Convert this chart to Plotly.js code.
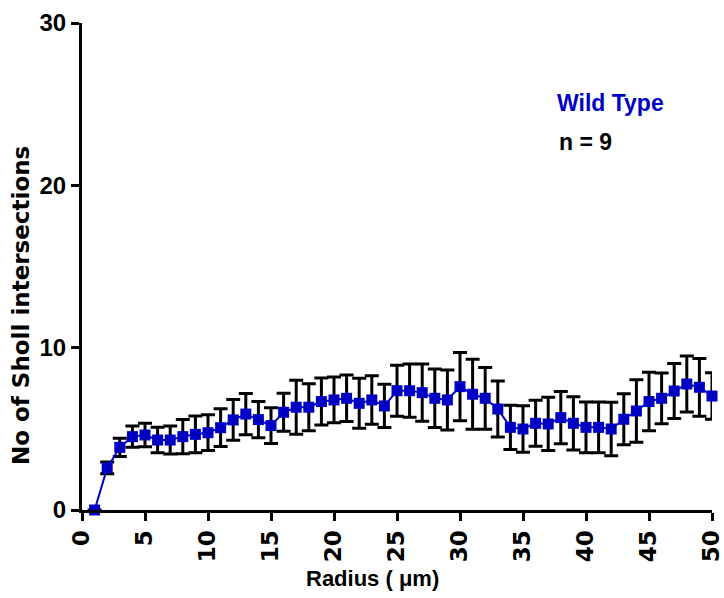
<!DOCTYPE html>
<html>
<head>
<meta charset="utf-8">
<script src="https://cdn.plot.ly/plotly-3.0.1.min.js"></script>
<style>html,body{margin:0;padding:0;background:#fff;}#chart{width:724px;height:598px;}</style>
</head>
<body>
<div id="chart"></div>
<script>
const radius = [1,2,3,4,5,6,7,8,9,10,11,12,13,14,15,16,17,18,19,20,21,22,23,24,25,26,27,28,29,30,31,32,33,34,35,36,37,38,39,40,41,42,43,44,45,46,47,48,49,50];
const meanIntersections = [0,2.59,3.86,4.52,4.62,4.31,4.31,4.52,4.66,4.76,5.07,5.55,5.91,5.57,5.2,6.02,6.33,6.33,6.68,6.78,6.88,6.57,6.78,6.41,7.35,7.35,7.23,6.88,6.78,7.6,7.13,6.88,6.22,5.09,4.99,5.34,5.3,5.69,5.34,5.09,5.09,4.99,5.59,6.1,6.68,6.88,7.33,7.76,7.56,7.02];
const semIntersections = [0,0.36,0.56,0.65,0.72,0.78,0.86,1.05,1.13,1.1,1.16,1.25,1.27,1.12,1.1,1.17,1.66,1.45,1.45,1.41,1.43,1.54,1.49,1.33,1.57,1.64,1.77,1.8,1.85,2.1,2.15,1.9,1.72,1.37,1.43,1.42,1.64,1.61,1.64,1.57,1.57,1.65,1.57,1.92,1.8,1.56,1.7,1.72,1.78,1.43];
const xTicks = [0,5,10,15,20,25,30,35,40,45,50];
const yTicks = [0,10,20,30];

const blue = '#0000c4';
const trace = {
  x: radius,
  y: meanIntersections,
  type: 'scatter',
  mode: 'lines+markers',
  line: {color: blue, width: 2},
  marker: {symbol: 'square', size: 11, color: blue},
  error_y: {type: 'data', array: semIntersections, visible: true, color: '#000', thickness: 3, width: 7},
  cliponaxis: false,
  showlegend: false
};

const L = 82, R = 12, T = 23, B = 88, W = 724, H = 598;
function px2paperX(px){ return (px - L) / (W - L - R); }
function px2paperY(py){ return (H - B - py) / (H - T - B); }

const layout = {
  width: W, height: H,
  margin: {l: L, r: R, t: T, b: B},
  paper_bgcolor: '#fff', plot_bgcolor: '#fff',
  xaxis: {
    range: [0, 50], tickvals: xTicks, ticktext: xTicks.map(String),
    showgrid: false, zeroline: false, showline: true, linecolor: '#000', linewidth: 3,
    ticks: 'outside', ticklen: 8, tickwidth: 3, tickcolor: '#000',
    tickangle: -90, ticklabeloverflow: 'allow',
    tickfont: {family: 'DejaVu Sans', size: 23, color: '#000', weight: 'bold'}
  },
  yaxis: {
    range: [0, 30], tickvals: yTicks, ticktext: yTicks.map(String),
    showgrid: false, zeroline: false, showline: true, linecolor: '#000', linewidth: 3,
    ticks: 'outside', ticklen: 8, tickwidth: 3, tickcolor: '#000',
    ticklabeloverflow: 'allow',
    tickfont: {family: 'Liberation Sans', size: 24, color: '#000', weight: 'bold'}
  },
  annotations: [
    {x: px2paperX(372), y: px2paperY(578), xref: 'paper', yref: 'paper', xanchor: 'center', yanchor: 'middle',
     text: 'Radius ( μm)', showarrow: false, font: {family: 'Liberation Sans', size: 22, color: '#000', weight: 'bold'}},
    {x: px2paperX(21), y: px2paperY(306), xref: 'paper', yref: 'paper', xanchor: 'center', yanchor: 'middle',
     text: 'No of Sholl intersections', textangle: -90, showarrow: false,
     font: {family: 'DejaVu Sans', size: 23, color: '#000', weight: 'bold'}},
    {x: px2paperX(555), y: px2paperY(103), xref: 'paper', yref: 'paper', xanchor: 'left', yanchor: 'middle',
     text: 'Wild Type', showarrow: false, font: {family: 'Liberation Sans', size: 23, color: blue, weight: 'bold'}},
    {x: px2paperX(557), y: px2paperY(142), xref: 'paper', yref: 'paper', xanchor: 'left', yanchor: 'middle',
     text: 'n = 9', showarrow: false, font: {family: 'Liberation Sans', size: 23, color: '#000', weight: 'bold'}}
  ]
};

Plotly.newPlot('chart', [trace], layout, {displayModeBar: false, staticPlot: true});
</script>
</body>
</html>
